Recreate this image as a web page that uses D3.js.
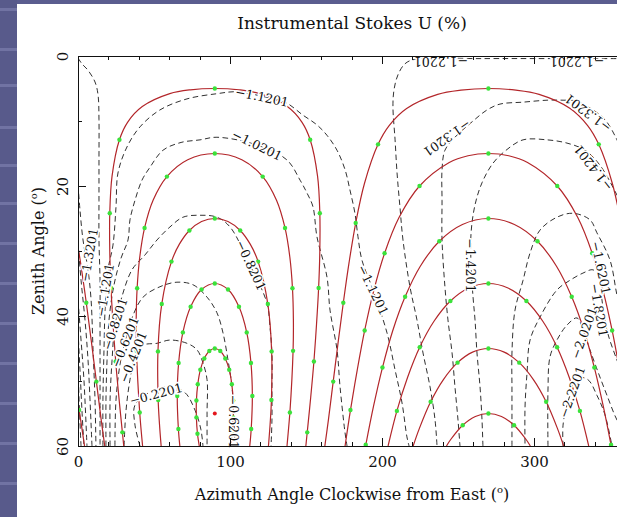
<!DOCTYPE html>
<html>
<head>
<meta charset="utf-8">
<script src="https://cdn.jsdelivr.net/npm/d3@7.9.0/dist/d3.min.js"></script>
<style>
  html, body { margin: 0; padding: 0; background: #fff; }
  svg { display: block; }
</style>
</head>
<body>
<div id="chart"></div>
<script>
// ---- axis ticks
const xMajor = [0, 100, 200, 300];
const xMinor = [20, 40, 60, 80, 120, 140, 160, 180, 220, 240, 260, 280, 320, 340];
const yMajor = [0, 20, 40, 60];
const yMinor = [10, 30, 50];

// ---- red declination tracks, [azimuth, zenith]
const dec80 = [[79.8,60],[78.6,58.12],[77.9,55.6],[77.9,53.0],[78.8,50.51],[80.5,48.28],[83.1,46.53],[86.4,45.39],[90,45],[93.6,45.39],[96.9,46.53],[99.5,48.28],[101.2,50.51],[102.1,53.0],[102.1,55.6],[101.4,58.12],[100.2,60]];
const dec70 = [[67.0,60],[66.05,57.38],[65.3,52.3],[66.2,47.23],[69.0,42.52],[74.1,38.58],[81.3,35.93],[90,35],[98.7,35.93],[105.9,38.58],[111.0,42.52],[113.8,47.23],[114.7,52.3],[113.95,57.38],[113.0,60]];
const dec60 = [[54.7,60],[53.6,56.62],[52.75,52.93],[52.6,45.45],[55.1,38.16],[61.5,31.63],[66.7,28.95],[73.3,26.84],[81.3,25.47],[90,25],[98.7,25.47],[106.7,26.84],[113.3,28.95],[118.5,31.63],[124.9,38.16],[127.4,45.45],[127.25,52.93],[126.4,56.62],[125.3,60]];
const dec50 = [[42.5,60],[40.6,54.85],[38.5,45.36],[38.3,40.54],[38.9,35.73],[40.6,31.0],[43.8,26.45],[49.4,22.19],[58.5,18.55],[72.2,15.95],[90,15],[107.8,15.95],[121.5,18.55],[130.6,22.19],[136.2,26.45],[139.4,31.0],[141.1,35.73],[141.7,40.54],[141.5,45.36],[139.4,54.85],[137.5,60]];
const dec40 = [[30.1,60],[29.2,57.9],[26.9,52.5],[24.8,47.0],[23.1,41.35],[21.7,35.7],[20.9,29.93],[20.9,24.2],[22.4,18.49],[27.26,12.89],[32.6,10.2],[42.3,7.78],[60.4,5.79],[74.0,5.2],[90,5],[106.0,5.2],[119.6,5.79],[137.7,7.78],[147.4,10.2],[152.74,12.89],[157.6,18.49],[159.1,24.2],[159.1,29.93],[158.3,35.7],[156.9,41.35],[155.2,47.0],[153.1,52.5],[150.8,57.9],[149.9,60]];
const dec30 = [[162.4,60],[164.7,56.06],[167.9,50.09],[171.13,44.05],[174.55,37.96],[178.3,31.83],[182.7,25.7],[188.5,19.58],[197.4,13.59],[204.7,10.7],[216.2,8.07],[236.65,5.9],[251.94,5.25],[270,5],[288.06,5.25],[303.35,5.9],[323.8,8.07],[335.3,10.7],[342.6,13.59],[351.5,19.58],[357.3,25.7],[360,29.4]];
const dec30wrap = [[0,29.4],[1.7,31.83],[5.45,37.96],[8.87,44.05],[12.1,50.09],[15.3,56.06],[17.6,60]];
const dec20 = [[175.7,60],[179.25,54.47],[183.7,48.32],[188.6,42.22],[194.45,36.2],[201.7,30.35],[211.2,24.86],[224.7,20.0],[244.25,16.38],[256.6,15.34],[270,15],[283.4,15.34],[295.75,16.38],[315.3,20.0],[328.8,24.86],[338.3,30.35],[345.55,36.2],[351.4,42.22],[356.3,48.32],[360,53.4]];
const dec20wrap = [[0,53.4],[0.75,54.47],[4.3,60]];
const dec10 = [[189.2,60],[194.5,53.8],[200.3,47.93],[207,42.3],[215.2,37.04],[225.2,32.34],[237.7,28.5],[252.9,25.92],[270,25],[287.1,25.92],[302.3,28.5],[314.8,32.34],[324.8,37.04],[333.0,42.3],[339.7,47.93],[345.5,53.8],[350.8,60]];
const dec00 = [[204,60],[209.8,54.6],[216.8,49.46],[224.8,44.81],[234.2,40.81],[245,37.69],[257.1,35.69],[270,35],[282.9,35.69],[295,37.69],[305.8,40.81],[315.2,44.81],[323.2,49.46],[330.2,54.6],[336,60]];
const decM10 = [[220.5,60],[224.6,57.29],[232,53.2],[240.4,49.78],[249.7,47.18],[259.6,45.56],[270,45],[280.4,45.56],[290.3,47.18],[299.6,49.78],[308,53.2],[315.4,57.29],[319.5,60]];
const decM20 = [[242.4,60],[245.2,59.0],[253.1,56.81],[261.4,55.46],[270,55],[278.6,55.46],[286.9,56.81],[294.8,59.0],[297.6,60]];

// ---- hourly markers (green)
const hourDots = [
  [90,45],[86.4,45.39],[93.6,45.39],[83.1,46.53],[96.9,46.53],[80.5,48.28],[99.5,48.28],[78.8,50.51],[101.2,50.51],[77.9,53.0],[102.1,53.0],[77.9,55.6],[102.1,55.6],[78.6,58.12],[101.4,58.12],
  [90,35],[81.3,35.93],[98.7,35.93],[74.1,38.58],[105.9,38.58],[69.0,42.52],[111.0,42.52],[66.2,47.23],[113.8,47.23],[65.3,52.3],[114.7,52.3],[66.05,57.38],[113.95,57.38],
  [90,25],[73.3,26.84],[106.7,26.84],[61.5,31.63],[118.5,31.63],[55.1,38.16],[124.9,38.16],[52.6,45.45],[127.4,45.45],[52.75,52.93],[127.25,52.93],
  [90,15],[58.5,18.55],[121.5,18.55],[43.8,26.45],[136.2,26.45],[38.9,35.73],[141.1,35.73],[38.5,45.36],[141.5,45.36],[40.6,54.85],[139.4,54.85],
  [90,5],[27.26,12.89],[152.74,12.89],[20.9,24.2],[159.1,24.2],[21.7,35.7],[158.3,35.7],[24.8,47.0],[155.2,47.0],[29.2,57.9],[150.8,57.9],
  [270,5],[342.6,13.59],[197.4,13.59],[357.3,25.7],[182.7,25.7],[5.45,37.96],[174.55,37.96],[12.1,50.09],[167.9,50.09],
  [270,15],[315.3,20.0],[224.7,20.0],[338.3,30.35],[201.7,30.35],[351.4,42.22],[188.6,42.22],[0.75,54.47],[179.25,54.47],
  [270,25],[302.3,28.5],[237.7,28.5],[324.8,37.04],[215.2,37.04],[339.7,47.93],[200.3,47.93],[350.7,59.8],[189.3,59.8],
  [270,35],[295.0,37.69],[245.0,37.69],[315.2,44.81],[224.8,44.81],[330.2,54.6],[209.8,54.6],
  [270,45],[290.3,47.18],[249.7,47.18],[308.0,53.2],[232.0,53.2],
  [270,55],[286.9,56.81],[253.1,56.81]
];
const poleDot = [90, 55];

// ---- dashed contours of instrumental U
const cU122a = [[0,0.3],[2.6,1.2],[6.6,2.2],[11.2,4.0],[13.2,6.0],[13.8,9.8],[13.8,16.0],[13.8,22.2],[13.8,28.3],[14.5,34.5],[14.5,40.6],[14.5,46.8],[14.5,52.9],[14.5,60]];
const cU112 = [[16.4,60],[16.4,52.9],[17.1,45.2],[17.8,39.1],[19.7,32.9],[23.0,29.1],[25.0,23.2],[26.3,18.0],[32.2,14.0],[40.8,10.9],[53.9,8.3],[71.7,6.6],[91.4,5.8],[104.6,5.5],[121.1,6.2],[136.2,7.1],[148.0,9.1],[157.2,10.6],[163.8,12.2],[170.4,14.5],[175.7,17.5],[178.9,20.6],[182.2,24.2],[184.2,27.8],[186.8,31.4],[194.1,36.0],[203.3,42.6],[208.6,48.3],[213.2,53.4],[216.4,58.6],[217.8,60]];
const cU102 = [[18.4,60],[18.4,52.9],[19.1,46.8],[20.4,40.6],[23.7,35.2],[28.3,31.1],[32.9,28.3],[34.2,25.2],[37.5,22.2],[42.1,19.1],[47.4,17.1],[55.9,14.5],[67.8,13.3],[80.3,12.9],[91.4,12.5],[117.8,13.7],[137.5,16.0],[146.1,19.1],[150.7,21.1],[154.6,23.2],[157.2,27.8],[163.8,34.0],[165.8,39.1],[170.4,45.2],[172.4,50.9],[175.7,58.0],[177.0,60]];
const cU082 = [[21.1,60],[21.1,52.9],[22.4,46.8],[24.3,41.4],[28.3,37.5],[35.5,32.9],[44.1,30.6],[52.0,28.3],[60.5,26.3],[69.1,24.8],[80.3,24.5],[91.4,24.8],[100,26.3],[113.2,32.2],[124.3,38.0],[126.3,41.7],[127.6,45.7],[127.6,50.9],[127.6,56.0],[127.0,60]];
const cU062 = [[24.3,60],[25.0,52.9],[27.6,47.5],[30.9,44.0],[35.5,40.3],[42.8,37.1],[53.9,35.5],[65.1,34.8],[75.7,35.2],[84.9,37.1],[91.4,39.5],[95.4,42.6],[98.7,46.8],[101.3,50.9],[102.6,56.0],[103.3,60]];
const cU042 = [[30.3,60],[31.6,54.5],[34.2,49.8],[37.5,46.3],[42.8,44.5],[52.0,44.2],[60.5,43.7],[71.7,44.2],[78.3,45.2],[82.2,47.2],[84.9,49.8],[84.9,54.9],[84.9,60]];
const cU022 = [[40.8,60],[37.5,56.8],[37.5,53.7],[47.4,51.7],[60.5,50.9],[70.4,51.8],[77.0,54.5],[80.9,57.5],[82.2,60]];
const cU132a = [[0,19.8],[1.3,23.7],[3.3,28.3],[6.6,32.9],[8.6,37.5],[9.9,45.2],[11.2,52.9],[11.8,60]];
const cU142a = [[0,28.8],[2.0,34.5],[4.6,40.6],[6.6,46.8],[7.9,52.9],[9.2,60]];
const cU162a = [[0,37.5],[2.0,43.7],[3.9,49.8],[5.9,60]];
const cU182a = [[0,42.2],[1.3,48.3],[2.6,54.5],[3.9,60]];
const cU202a = [[0,46.8],[0.7,52.9],[2.0,60]];
const cU122 = [[360,0.4],[354.6,0.4],[317.1,0.4],[264.5,0.4],[221.7,0.5],[215.1,1.2],[210.5,2.9],[207.9,5.2],[207.2,7.8],[208.6,12.9],[209.9,18.0],[211.8,23.2],[213.8,28.3],[218.4,35.5],[223.0,40.6],[227.0,45.7],[231.6,50.9],[234.9,56.0],[236.2,60]];
const cU132 = [[360,16],[354.6,12.9],[346.7,9.8],[336.8,8.0],[327,6.9],[319.1,6.8],[308.6,6.8],[292.8,7.1],[277.6,7.4],[269.1,8.3],[259.9,10.0],[248,12.5],[241.4,14.5],[239.5,17.5],[239.5,22.2],[239.5,28.3],[241.4,35.5],[243.4,40.6],[246.1,45.7],[248.0,50.9],[250.0,56.0],[251.3,60]];
const cU142 = [[360,24],[354.6,21.4],[343.4,16.8],[333.6,14.5],[321.7,13.4],[308.6,12.9],[292.8,12.9],[281.6,14.5],[273.0,16.5],[265.8,19.5],[261.2,22.9],[258.6,27.2],[258.6,32.2],[259.9,37.1],[261.2,40.6],[262.5,45.7],[264.5,50.9],[265.8,56.0],[266.4,60]];
const cU162 = [[360,42],[354.6,36.8],[350,31.4],[341.4,27.2],[336.8,25.2],[325.7,24.2],[315.1,24.8],[303.9,26.8],[297.4,30.3],[292.8,34.5],[287.5,39.1],[285.5,45.7],[285.5,50.9],[285.5,56.0],[285.5,60]];
const cU182 = [[360,50],[354.6,46.8],[348,42.2],[344.7,37.5],[343.4,34.0],[338.8,32.9],[332.2,33.4],[323.7,34.5],[315.1,36.0],[303.9,40.2],[297.4,43.7],[295.4,48.8],[294.1,54.0],[294.1,60]];
const cU202 = [[309.2,60],[309.2,51.4],[310.5,46.3],[315.1,43.7],[321.7,41.4],[328.3,40.3],[332.9,42.6],[336.8,45.2],[342.1,48.6],[348,52.2],[354.6,56.0],[360,58]];
const cU222 = [[319.1,60],[319.1,56.8],[321.7,53.7],[325,51.4],[329,49.5],[335.5,49.8],[341.4,52.2],[346.7,55.2],[351.3,60]];

// ---- contour labels
const labelText = ["\u22121.1201","\u22121.0201","\u22120.8201","\u22121.1201","\u22120.6201","\u22120.2201","\u22120.4201","\u22120.6201","\u22120.8201","\u22121.1201","\u22121.3201","\u22121.2201","\u22121.2201","\u22121.3201","\u22121.3201","\u22121.4201","\u22121.4201","\u22121.6201","\u22121.8201","\u22122.0201","\u22122.2201"];
const labelPos = [[121.1,6.3],[117.8,13.7],[113.8,32.2],[194.1,36.0],[102.6,56.3],[51.3,52.0],[36.2,46.3],[30.9,44.0],[24.3,41.2],[17.8,36.0],[7.2,30.6],[238.8,0.8],[328.3,0.8],[335.5,8.8],[242.8,12.6],[339.0,17.2],[257.9,32.2],[344.1,32.6],[342.8,39.1],[332.9,42.6],[325,51.7]];
const labelAngle = [12, 26, 65, 64, 90, -15, -68, -68, -72, -80, -80, 180, 180, 217, 145, 232, 90, 78, 80, -70, -70];

const width = 617, height = 517;
const svg = d3.select('#chart').append('svg')
    .attr('width', width)
    .attr('height', height)
    .attr('viewBox', `0 0 ${width} ${height}`);

// slide background strip on the left and top
svg.append('rect').attr('x', 0).attr('y', 0).attr('width', width).attr('height', 4).attr('fill', '#5b5d8f');
svg.append('rect').attr('x', 0).attr('y', 0).attr('width', 17).attr('height', height).attr('fill', '#585a8b');
[8, 48, 84, 126, 164, 202, 242, 282, 322, 362, 402, 442, 482].forEach(s => {
    svg.append('rect').attr('x', 0).attr('y', s).attr('width', 17).attr('height', 3).attr('fill', '#7173a3');
});

const xScale = d3.scaleLinear().domain([0, 360]).range([78, 625.2]);
const yScale = d3.scaleLinear().domain([0, 60]).range([56, 446]);

const serif = '"DejaVu Serif", "Liberation Serif", serif';

svg.append('clipPath').attr('id', 'plotClip')
  .append('rect')
    .attr('x', 78).attr('y', 56)
    .attr('width', 547.2).attr('height', 390);

const plot = svg.append('g').attr('clip-path', 'url(#plotClip)');

const line = d3.line()
    .x(d => xScale(d[0]))
    .y(d => yScale(d[1]))
    .curve(d3.curveCatmullRom.alpha(0.5));

// dashed contours
const contours = [cU122a, cU112, cU102, cU082, cU062, cU042, cU022,
    cU132a, cU142a, cU162a, cU182a, cU202a,
    cU122, cU132, cU142, cU162, cU182, cU202, cU222];
plot.append('g')
  .selectAll('path')
  .data(contours)
  .join('path')
    .attr('d', line)
    .attr('fill', 'none')
    .attr('stroke', '#1a1a1a')
    .attr('stroke-width', 0.9)
    .attr('stroke-dasharray', '5.5,3.5');

// contour labels
svg.append('g')
  .selectAll('text')
  .data(labelText)
  .join('text')
    .attr('transform', (d, i) => `translate(${xScale(labelPos[i][0])},${yScale(labelPos[i][1])}) rotate(${labelAngle[i]})`)
    .attr('text-anchor', 'middle')
    .attr('dy', '0.36em')
    .attr('font-family', serif)
    .attr('font-size', 12.5)
    .attr('fill', '#111')
    .attr('stroke', '#fff')
    .attr('stroke-width', 3)
    .attr('paint-order', 'stroke')
    .text(d => d);

// red declination tracks
const tracks = [dec80, dec70, dec60, dec50, dec40, dec30, dec30wrap, dec20, dec20wrap, dec10, dec00, decM10, decM20];
plot.append('g')
  .selectAll('path')
  .data(tracks)
  .join('path')
    .attr('d', line)
    .attr('fill', 'none')
    .attr('stroke', '#b3262a')
    .attr('stroke-width', 1.2);

// hourly markers
plot.append('g')
  .selectAll('circle')
  .data(hourDots)
  .join('circle')
    .attr('cx', d => xScale(d[0]))
    .attr('cy', d => yScale(d[1]))
    .attr('r', 2.2)
    .attr('fill', '#3ae23a');

plot.append('circle')
    .attr('cx', xScale(poleDot[0]))
    .attr('cy', yScale(poleDot[1]))
    .attr('r', 2)
    .attr('fill', '#e3161c');

// axes (ticks inside the frame)
function styleAxis(g) {
    g.select('.domain').remove();
    g.selectAll('line').attr('stroke', '#111').attr('shape-rendering', 'crispEdges');
}

const bottomAxis = svg.append('g')
    .attr('transform', `translate(0,${yScale(60)})`)
    .call(d3.axisBottom(xScale).tickValues(xMajor).tickSize(-8).tickPadding(10).tickFormat(d => d))
    .call(styleAxis);
bottomAxis.selectAll('text').attr('font-family', serif).attr('font-size', 15).attr('fill', '#111');

svg.append('g')
    .attr('transform', `translate(0,${yScale(60)})`)
    .call(d3.axisBottom(xScale).tickValues(xMinor).tickSize(-4).tickFormat(''))
    .call(styleAxis);

svg.append('g')
    .attr('transform', `translate(0,${yScale(0)})`)
    .call(d3.axisTop(xScale).tickValues(xMajor).tickSize(-8).tickFormat(''))
    .call(styleAxis);
svg.append('g')
    .attr('transform', `translate(0,${yScale(0)})`)
    .call(d3.axisTop(xScale).tickValues(xMinor).tickSize(-4).tickFormat(''))
    .call(styleAxis);

const leftAxis = svg.append('g')
    .attr('transform', `translate(${xScale(0)},0)`)
    .call(d3.axisLeft(yScale).tickValues(yMajor).tickSize(-8).tickFormat(d => d))
    .call(styleAxis);
leftAxis.selectAll('text')
    .attr('x', null).attr('dy', null)
    .attr('text-anchor', 'middle')
    .attr('transform', 'translate(-10.5,0) rotate(-90)')
    .attr('font-family', serif).attr('font-size', 15).attr('fill', '#111');

svg.append('g')
    .attr('transform', `translate(${xScale(0)},0)`)
    .call(d3.axisLeft(yScale).tickValues(yMinor).tickSize(-4).tickFormat(''))
    .call(styleAxis);

// frame
svg.append('rect')
    .attr('x', 78).attr('y', 56)
    .attr('width', 547.2).attr('height', 390)
    .attr('fill', 'none')
    .attr('stroke', '#111')
    .attr('stroke-width', 1)
    .attr('shape-rendering', 'crispEdges');

// titles
svg.append('text')
    .attr('x', 352).attr('y', 28.5)
    .attr('text-anchor', 'middle')
    .attr('font-family', serif).attr('font-size', 17).attr('fill', '#111')
    .text('Instrumental Stokes U (%)');

const xTitle = svg.append('text')
    .attr('x', 352).attr('y', 500)
    .attr('text-anchor', 'middle')
    .attr('font-family', serif).attr('font-size', 16).attr('fill', '#111');
xTitle.append('tspan').text('Azimuth Angle Clockwise from East (');
xTitle.append('tspan').attr('font-size', 10).attr('dy', -7).text('o');
xTitle.append('tspan').attr('dy', 7).text(')');

const yTitle = svg.append('text')
    .attr('transform', 'translate(43.5,251) rotate(-90)')
    .attr('text-anchor', 'middle')
    .attr('font-family', serif).attr('font-size', 16).attr('fill', '#111');
yTitle.append('tspan').text('Zenith Angle (');
yTitle.append('tspan').attr('font-size', 10).attr('dy', -7).text('o');
yTitle.append('tspan').attr('dy', 7).text(')');
</script>
</body>
</html>
